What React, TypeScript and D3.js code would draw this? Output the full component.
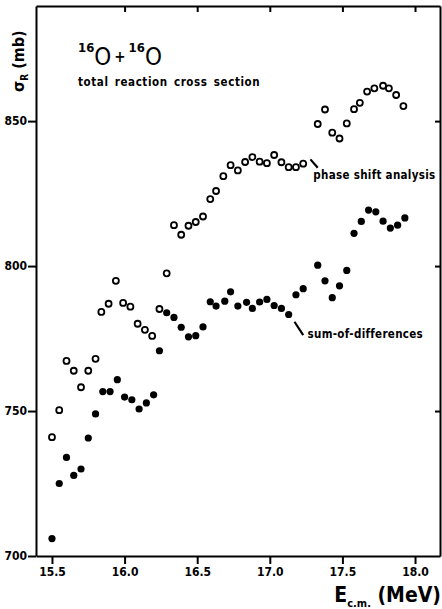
import * as d3 from "d3";
import React, { useRef, useEffect } from "react";

// phase shift analysis (open circles)
const energyPhase = [
  15.5, 15.55, 15.6, 15.65, 15.7, 15.75, 15.8, 15.84, 15.89, 15.94, 15.99, 16.04, 16.09, 16.14, 16.19, 16.24, 16.29,
  16.34, 16.39, 16.44, 16.49, 16.54, 16.59, 16.63, 16.68, 16.73, 16.78, 16.83, 16.88, 16.93, 16.98, 17.03, 17.08,
  17.13, 17.18, 17.23, 17.33, 17.38, 17.43, 17.48, 17.53, 17.58, 17.62, 17.67, 17.72, 17.78, 17.82, 17.87, 17.92,
];
const sigmaPhase = [
  741, 750.3, 767.3, 763.9, 758.2, 763.9, 768, 784.2, 787, 794.9, 787.3, 786, 780.1, 778, 775.9, 785.2, 797.5,
  814.1, 810.8, 813.9, 815.2, 817.1, 823.1, 825.9, 831, 834.8, 833, 835.9, 837.6, 836, 835.5, 838.3, 835.8,
  834.1, 834.1, 835.3, 849, 854, 846, 844, 849.2, 854.1, 856.3, 860.2, 861.3, 862.2, 861.3, 859, 855.2,
];

// sum-of-differences (filled circles)
const energySum = [
  15.5, 15.55, 15.6, 15.65, 15.7, 15.75, 15.8, 15.85, 15.9, 15.95, 16.0, 16.05, 16.1, 16.15, 16.2, 16.24, 16.29,
  16.34, 16.39, 16.44, 16.49, 16.54, 16.59, 16.63, 16.69, 16.73, 16.78, 16.84, 16.88, 16.93, 16.98, 17.03, 17.08,
  17.13, 17.18, 17.23, 17.33, 17.38, 17.43, 17.48, 17.53, 17.58, 17.63, 17.68, 17.73, 17.78, 17.83, 17.88, 17.93,
];
const sigmaSum = [
  706, 725, 734, 727.8, 730, 740.7, 749, 756.7, 756.7, 760.8, 754.8, 753.9, 750.7, 752.8, 755.6, 770.8, 783.9,
  782.3, 778.9, 775.6, 776, 779, 787.7, 786.2, 787.9, 791.1, 786.2, 787.5, 785.4, 787.6, 788.5, 786.4, 785.4,
  783.3, 790.1, 792.2, 800.3, 794.9, 789.1, 793.2, 798.5, 811.3, 815.4, 819.3, 818.7, 815.5, 813.1, 814.1, 816.6,
];

const xTicks = [15.5, 16.0, 16.5, 17.0, 17.5, 18.0];
const xTopTicks = [16.0, 16.5, 17.0, 17.5, 18.0];
const yTicks = [700, 750, 800, 850];
const yRightTicks = [750, 800, 850];

const WIDTH = 442;
const HEIGHT = 609;
const FONT = "'DejaVu Sans Condensed', 'Liberation Sans Narrow', 'DejaVu Sans', sans-serif";

const App = () => {
  const svgRef = useRef(null);

  useEffect(() => {
    const svg = d3.select(svgRef.current);
    svg.selectAll("*").remove();

    const x = d3.scaleLinear().domain([15.39, 18.172]).range([36, 440]);
    const y = d3.scaleLinear().domain([700, 889.7]).range([556, 6]);

    const styleAxis = (g, showLabels) => {
      g.select(".domain").attr("stroke", "#000").attr("stroke-width", 2);
      g.selectAll(".tick line").attr("stroke", "#000").attr("stroke-width", 2);
      g.selectAll(".tick text")
        .attr("fill", "#000")
        .attr("font-family", FONT)
        .attr("font-weight", "bold")
        .attr("font-size", 12)
        .style("display", showLabels ? null : "none");
    };

    svg
      .append("g")
      .attr("transform", `translate(0,${y(700)})`)
      .call(d3.axisBottom(x).tickValues(xTicks).tickFormat(d3.format(".1f")).tickSize(8).tickSizeOuter(0).tickPadding(3))
      .call((g) => styleAxis(g, true));

    svg
      .append("g")
      .attr("transform", `translate(${x.range()[0]},0)`)
      .call(d3.axisLeft(y).tickValues(yTicks).tickFormat(d3.format("d")).tickSize(8).tickSizeOuter(0).tickPadding(1))
      .call((g) => styleAxis(g, true));

    svg
      .append("g")
      .attr("transform", `translate(0,${y.range()[1]})`)
      .call(d3.axisTop(x).tickValues(xTopTicks).tickSize(-6).tickSizeOuter(0))
      .call((g) => styleAxis(g, false));

    svg
      .append("g")
      .attr("transform", `translate(${x.range()[1]},0)`)
      .call(d3.axisRight(y).tickValues(yRightTicks).tickSize(-5).tickSizeOuter(0))
      .call((g) => styleAxis(g, false));

    // open circles
    svg
      .append("g")
      .selectAll("circle")
      .data(energyPhase)
      .join("circle")
      .attr("cx", (d) => x(d))
      .attr("cy", (d, i) => y(sigmaPhase[i]))
      .attr("r", 3)
      .attr("fill", "#fff")
      .attr("stroke", "#000")
      .attr("stroke-width", 1.8);

    // filled circles
    svg
      .append("g")
      .selectAll("circle")
      .data(energySum)
      .join("circle")
      .attr("cx", (d) => x(d))
      .attr("cy", (d, i) => y(sigmaSum[i]))
      .attr("r", 3.6)
      .attr("fill", "#000");

    // annotations
    const note = (x1, y1, x2, y2, tx, ty, label) => {
      svg
        .append("line")
        .attr("x1", x(x1))
        .attr("y1", y(y1))
        .attr("x2", x(x2))
        .attr("y2", y(y2))
        .attr("stroke", "#000")
        .attr("stroke-width", 2.2);
      svg
        .append("text")
        .attr("x", x(tx))
        .attr("y", y(ty))
        .attr("font-family", FONT)
        .attr("font-weight", "bold")
        .attr("font-size", 11.5)
        .attr("letter-spacing", 0.3)
        .text(label);
    };
    note(17.28, 836.8, 17.33, 833.9, 17.3, 830.2, "phase shift analysis");
    note(17.17, 780.8, 17.23, 776.2, 17.26, 775.3, "sum-of-differences");

    // title
    const title = svg.append("text").attr("font-family", FONT).attr("font-weight", "bold").attr("fill", "#000");
    title.append("tspan").attr("x", 78).attr("y", 52).attr("font-size", 13).text("16");
    title.append("tspan").attr("y", 65).attr("font-size", 24).attr("font-weight", "normal").text("O");
    title.append("tspan").attr("dx", 3).attr("y", 62).attr("font-size", 15).text("+");
    title.append("tspan").attr("dx", 3).attr("y", 52).attr("font-size", 13).text("16");
    title.append("tspan").attr("y", 65).attr("font-size", 24).attr("font-weight", "normal").text("O");

    svg
      .append("text")
      .attr("x", 78)
      .attr("y", 86)
      .attr("font-family", FONT)
      .attr("font-weight", "bold")
      .attr("font-size", 11.5)
      .attr("letter-spacing", 0.6)
      .attr("word-spacing", 2)
      .text("total reaction cross section");

    // y axis label
    const yl = svg
      .append("text")
      .attr("transform", "translate(24,92) rotate(-90)")
      .attr("font-family", FONT)
      .attr("font-weight", "bold")
      .attr("font-size", 16);
    yl.append("tspan").text("σ");
    yl.append("tspan").attr("font-size", 10).attr("dy", 4).text("R");
    yl.append("tspan").attr("dy", -4).text(" (mb)");

    // x axis label
    const xl = svg
      .append("text")
      .attr("x", 441)
      .attr("y", 602)
      .attr("text-anchor", "end")
      .attr("font-family", FONT)
      .attr("font-weight", "bold")
      .attr("font-size", 21);
    xl.append("tspan").text("E");
    xl.append("tspan").attr("font-size", 11).attr("dy", 5).text("c.m.");
    xl.append("tspan").attr("dy", -5).text(" (MeV)");
  }, []);

  return (
    <svg
      ref={svgRef}
      width={WIDTH}
      height={HEIGHT}
      viewBox={`0 0 ${WIDTH} ${HEIGHT}`}
      style={{ position: "absolute", left: 0, top: 0, background: "#fff" }}
    />
  );
};

export default App;
